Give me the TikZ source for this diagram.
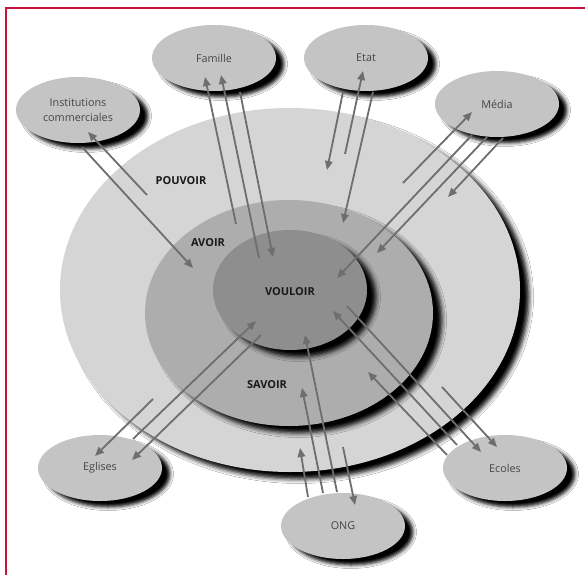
\documentclass[tikz,border=0pt]{standalone}
\usepackage{fontspec}
\setmainfont{Open Sans}
\usetikzlibrary{arrows.meta,shapes.geometric,shadows.blur}
\definecolor{framered}{HTML}{C8143C}
\definecolor{outergray}{HTML}{D5D5D5}
\definecolor{midgray}{HTML}{ADADAD}
\definecolor{innergray}{HTML}{8E8E8E}
\definecolor{satgray}{HTML}{C4C4C4}
\definecolor{arrgray}{HTML}{6E6E6E}
\definecolor{txtgray}{HTML}{454545}
\begin{document}
\begin{tikzpicture}[x=1pt,y=-1pt,
  ring/.style={ellipse, inner sep=0pt, draw=none},
  ringshadow/.style={blur shadow={shadow xshift=9pt, shadow yshift=-7pt, shadow blur radius=4.5pt, shadow opacity=100}},
  sat/.style={ellipse, inner sep=0pt, minimum width=124pt, minimum height=66pt, fill=satgray,
    blur shadow={shadow xshift=8pt, shadow yshift=-6pt, shadow blur radius=3.5pt, shadow opacity=100},
    font=\fontsize{10.8}{15}\selectfont, text=txtgray, align=center},
  lbl/.style={font=\bfseries\fontsize{11}{12}\selectfont, text=black!90},
  arr/.style={draw=arrgray, line width=1.8pt, -{Triangle[length=9pt,width=7.5pt]}},
  framestyle/.style={draw=framered, line width=1.3pt}
]
\useasboundingbox (0,0) rectangle (585,575);
\fill[white] (0,0) rectangle (585,575);
% frame
\coordinate (fTR) at (585,8);
\coordinate (fTL) at (6,8);
\coordinate (fBL) at (6,575);
\draw[framestyle] (fTR) -- (fTL) -- (fBL);

% rings
\node[ring, ringshadow, fill=outergray, minimum width=460pt, minimum height=364pt] (pouvoir) at (290,290) {};
\node[ring, ringshadow, fill=midgray, minimum width=288pt, minimum height=226pt] (avoir) at (289,313) {};
\node[ring, ringshadow, fill=innergray, minimum width=154pt, minimum height=120pt] (vouloir) at (290,290) {};

\node[lbl] (lpouvoir) at (181,181) {POUVOIR};
\node[lbl] (lavoir) at (208,243) {AVOIR};
\node[lbl] (lvouloir) at (290,292) {VOULOIR};
\node[lbl] (lsavoir) at (267,385) {SAVOIR};

% satellites
\node[sat] (famille) at (214,58) {Famille};
\node[sat] (etat) at (366,58) {Etat};
\node[sat] (media) at (497,104) {Média};
\node[sat] (inst) at (78,110) {Institutions\\commerciales};
\node[sat] (eglises) at (100,468) {Eglises};
\node[sat] (ecoles) at (505,468) {Ecoles};
\node[sat] (ong) at (343,526) {ONG};

% arrow end points
\coordinate (ins1a) at (147,195); \coordinate (ins1b) at (88,132);
\coordinate (ins2a) at (82,147);  \coordinate (ins2b) at (193,268);
\coordinate (fam1a) at (236,224); \coordinate (fam1b) at (205,77);
\coordinate (fam2a) at (259,258); \coordinate (fam2b) at (221,75);
\coordinate (fam3a) at (240,92);  \coordinate (fam3b) at (273,257);
\coordinate (eta1a) at (343,92);  \coordinate (eta1b) at (327,170);
\coordinate (eta2a) at (345,154); \coordinate (eta2b) at (363,71);
\coordinate (eta3a) at (373,92);  \coordinate (eta3b) at (343,223);
\coordinate (med1a) at (403,183); \coordinate (med1b) at (472,112);
\coordinate (med2a) at (472,135); \coordinate (med2b) at (337,278);
\coordinate (med3a) at (487,137); \coordinate (med3b) at (377,253);
\coordinate (med4a) at (503,138); \coordinate (med4b) at (448,197);
\coordinate (egl1a) at (153,399); \coordinate (egl1b) at (95,456);
\coordinate (egl2a) at (133,439); \coordinate (egl2b) at (256,321);
\coordinate (egl3a) at (261,335); \coordinate (egl3b) at (132,460);
\coordinate (ong1a) at (308,497); \coordinate (ong1b) at (300,448);
\coordinate (ong2a) at (323,493); \coordinate (ong2b) at (302,388);
\coordinate (ong3a) at (337,492); \coordinate (ong3b) at (305,335);
\coordinate (ong4a) at (343,447); \coordinate (ong4b) at (355,505);
\coordinate (eco1a) at (347,306); \coordinate (eco1b) at (481,452);
\coordinate (eco2a) at (457,445); \coordinate (eco2b) at (333,311);
\coordinate (eco3a) at (447,455); \coordinate (eco3b) at (368,372);
\coordinate (eco4a) at (442,387); \coordinate (eco4b) at (497,447);

\foreach \p in {ins1,ins2,fam1,fam2,fam3,eta1,eta2,eta3,med1,med2,med3,med4,egl1,egl2,egl3,ong1,ong2,ong3,ong4,eco1,eco2,eco3,eco4}
  \draw[arr] (\p a) -- (\p b);
\end{tikzpicture}
\end{document}
